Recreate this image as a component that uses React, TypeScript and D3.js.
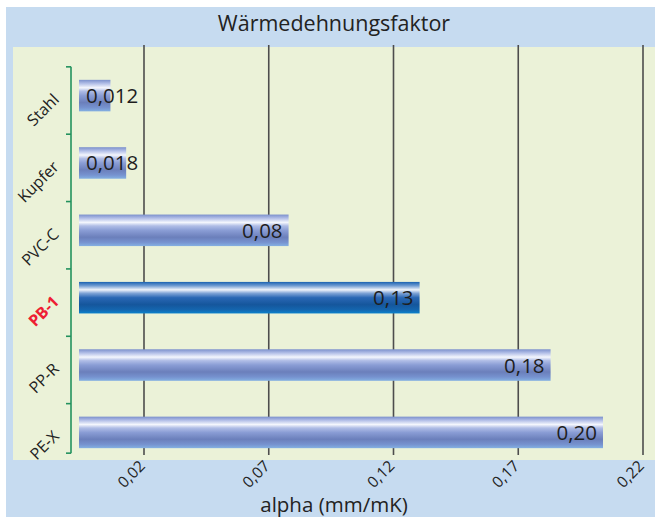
import React from "react";
import * as d3 from "d3";

const categories = ["Stahl", "Kupfer", "PVC-C", "PB-1", "PP-R", "PE-X"];
const values = [0.012, 0.018, 0.08, 0.13, 0.18, 0.2];
const valueLabels = ["0,012", "0,018", "0,08", "0,13", "0,18", "0,20"];
const highlighted = ["PB-1"];
const tickValues = [0.02, 0.07, 0.12, 0.17, 0.22];
const tickLabels = ["0,02", "0,07", "0,12", "0,17", "0,22"];
const title = "Wärmedehnungsfaktor";
const axisTitle = "alpha (mm/mK)";

const W = 655;
const H = 517;
const FONT = "'Open Sans', 'DejaVu Sans', sans-serif";

export default function App() {
  const y = d3.scaleBand<string>().domain(categories).range([44, 484]).padding(0.532);
  const xBar = d3.scaleLinear().domain([0, 0.2]).range([79, 603]);
  const xAxis = d3.scaleLinear().domain([0.02, 0.22]).range([144, 643]);
  const bw = y.bandwidth();
  const first = y(categories[0])!;
  const last = y(categories[categories.length - 1])!;
  const axisTop = first - 13;
  const axisBottom = last + bw + 5;
  const axisX = 71;
  const green = "#23925e";

  return (
    <svg
      width={W}
      height={H}
      style={{ position: "absolute", left: 0, top: 0, fontFamily: FONT }}
    >
      <defs>
        <linearGradient id="gStd" x1="0" y1="0" x2="0" y2="1">
          <stop offset="0" stopColor="#7b90cc" />
          <stop offset="0.12" stopColor="#b4c0e8" />
          <stop offset="0.25" stopColor="#f4f6fd" />
          <stop offset="0.36" stopColor="#b0bde6" />
          <stop offset="0.5" stopColor="#8a9dd5" />
          <stop offset="0.72" stopColor="#6b7fbb" />
          <stop offset="0.88" stopColor="#7692cf" />
          <stop offset="1" stopColor="#84b0e2" />
        </linearGradient>
        <linearGradient id="gHi" x1="0" y1="0" x2="0" y2="1">
          <stop offset="0" stopColor="#1a62b0" />
          <stop offset="0.12" stopColor="#6f9bd2" />
          <stop offset="0.25" stopColor="#f0f4fb" />
          <stop offset="0.36" stopColor="#7fa3d6" />
          <stop offset="0.5" stopColor="#2a67b4" />
          <stop offset="0.72" stopColor="#15569c" />
          <stop offset="0.88" stopColor="#1465ae" />
          <stop offset="1" stopColor="#0a82cc" />
        </linearGradient>
      </defs>
      <rect x={6} y={7} width={W - 6} height={H - 7} fill="#c6dbf0" />
      <rect x={13} y={47} width={W - 13} height={413} fill="#ebf2d8" />
      <text x={334} y={31} textAnchor="middle" fontSize={21.5} fill="#222">
        {title}
      </text>

      {tickValues.map((t) => (
        <line
          key={"g" + t}
          x1={xAxis(t)}
          x2={xAxis(t)}
          y1={45}
          y2={455}
          stroke="#4d4d4d"
          strokeWidth={1.6}
        />
      ))}

      {categories.map((c, i) => {
        const by = y(c)!;
        const x0 = xBar(0);
        const x1 = xBar(values[i]);
        const hi = highlighted.includes(c);
        const textW = valueLabels[i].length * 10.5;
        const inside = x1 - x0 > textW + 14;
        return (
          <g key={c}>
            <rect
              x={x0}
              y={by}
              width={x1 - x0}
              height={bw}
              fill={hi ? "url(#gHi)" : "url(#gStd)"}
            />
            <text
              x={inside ? x1 - 6 : x0 + 7}
              y={by + bw / 2 + 7.5}
              textAnchor={inside ? "end" : "start"}
              fontSize={20.5}
              fill="#1e1e1e"
            >
              {valueLabels[i]}
            </text>
          </g>
        );
      })}

      <line x1={axisX} x2={axisX} y1={axisTop} y2={axisBottom} stroke={green} strokeWidth={1.6} />
      {categories.map((c) => (
        <line
          key={"t" + c}
          x1={axisX - 5}
          x2={axisX}
          y1={y(c)! - 13}
          y2={y(c)! - 13}
          stroke={green}
          strokeWidth={1.6}
        />
      ))}
      <line x1={axisX - 5} x2={axisX} y1={axisBottom} y2={axisBottom} stroke={green} strokeWidth={1.6} />

      {categories.map((c) => {
        const cy = y(c)! + bw / 2 + 5;
        const hi = highlighted.includes(c);
        return (
          <text
            key={"l" + c}
            transform={`translate(60,${cy}) rotate(-45)`}
            textAnchor="end"
            fontSize={16}
            fontWeight={hi ? 700 : 400}
            fill={hi ? "#ee1d33" : "#222"}
          >
            {c}
          </text>
        );
      })}

      {tickValues.map((t, i) => (
        <text
          key={"x" + t}
          transform={`translate(${xAxis(t) + 2},467) rotate(-45)`}
          textAnchor="end"
          fontSize={15.5}
          fill="#222"
        >
          {tickLabels[i]}
        </text>
      ))}

      <text x={334} y={512} textAnchor="middle" fontSize={20.5} fill="#222">
        {axisTitle}
      </text>
    </svg>
  );
}
